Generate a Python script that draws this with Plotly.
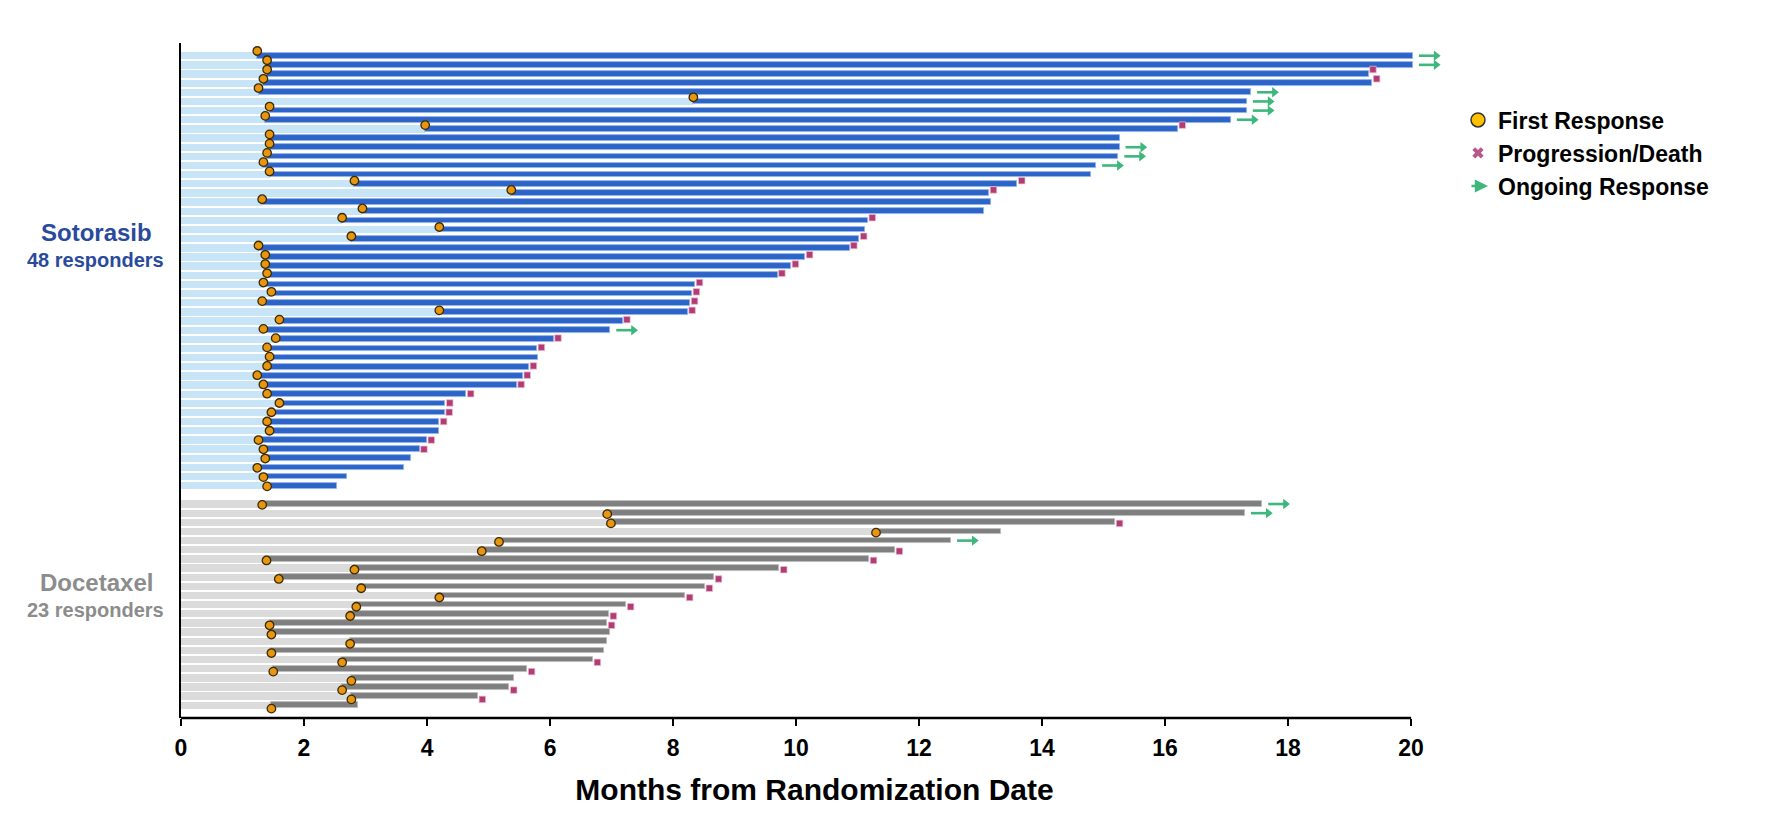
import plotly.graph_objects as go

# ---------------- data ----------------
soto_response = [1.24, 1.40, 1.40, 1.34, 1.26, 8.33, 1.44, 1.37, 3.97, 1.44,
                 1.44, 1.40, 1.34, 1.44, 2.82, 5.37, 1.32, 2.95, 2.62, 4.20,
                 2.77, 1.26, 1.37, 1.37, 1.40, 1.34, 1.47, 1.32, 4.20, 1.60,
                 1.34, 1.54, 1.40, 1.44, 1.40, 1.24, 1.34, 1.40, 1.60, 1.47,
                 1.40, 1.44, 1.26, 1.34, 1.37, 1.24, 1.34, 1.40]
soto_end = [20.03, 20.03, 19.31, 19.37, 17.40, 17.33, 17.33, 17.07, 16.21, 15.26,
            15.26, 15.24, 14.88, 14.80, 13.60, 13.14, 13.17, 13.06, 11.17, 11.12,
            11.03, 10.87, 10.15, 9.92, 9.70, 8.36, 8.31, 8.28, 8.24, 7.18,
            6.98, 6.06, 5.79, 5.81, 5.66, 5.56, 5.46, 4.64, 4.30, 4.29,
            4.20, 4.20, 4.00, 3.88, 3.74, 3.63, 2.70, 2.54]
# A = ongoing response, P = progression/death, N = none
soto_event = ["A", "A", "P", "P", "A", "A", "A", "A", "P", "N",
              "A", "A", "A", "N", "P", "P", "N", "N", "P", "N",
              "P", "P", "P", "P", "P", "P", "P", "P", "P", "P",
              "A", "P", "P", "N", "P", "P", "P", "P", "P", "P",
              "P", "N", "P", "P", "N", "N", "N", "N"]

doce_response = [1.32, 6.93, 6.99, 11.30, 5.17, 4.89, 1.39, 2.82, 1.59, 2.93,
                 4.20, 2.85, 2.75, 1.44, 1.47, 2.75, 1.47, 2.62, 1.50, 2.77,
                 2.62, 2.77, 1.47]
doce_end = [17.58, 17.30, 15.19, 13.34, 12.52, 11.61, 11.19, 9.73, 8.67, 8.52,
            8.20, 7.24, 6.96, 6.93, 6.98, 6.93, 6.87, 6.70, 5.63, 5.42,
            5.34, 4.83, 2.87]
doce_event = ["A", "A", "P", "N", "A", "P", "P", "P", "P", "P",
              "P", "P", "P", "P", "N", "N", "N", "P", "P", "N",
              "P", "P", "N"]

x_ticks = [0, 2, 4, 6, 8, 10, 12, 14, 16, 18, 20]
x_title = "Months from Randomization Date"
group_names = ["Sotorasib", "Docetaxel"]
group_counts = ["48 responders", "23 responders"]
legend_names = ["First Response", "Progression/Death", "Ongoing Response"]

# ---------------- layout constants ----------------
W, H = 1771, 822
X_MAX = 20.6                       # visible room for the arrows beyond 20
L, T, B = 181, 43, 104
R = W - L - round(61.5 * X_MAX)
PW, PH = W - L - R, H - T - B
FONT = "Liberation Sans, Arial, sans-serif"


def px(xp):
    return (xp - L) / PW


def py(yp):
    return 1 - (yp - T) / PH


soto_rows = list(range(len(soto_response)))
doce_rows = [len(soto_response) + 1 + i for i in range(len(doce_response))]

groups = [
    dict(resp=soto_response, end=soto_end, ev=soto_event, rows=soto_rows,
         light="#C7E5F7", dark="#2D64C7", edge="rgba(150,185,235,0.9)"),
    dict(resp=doce_response, end=doce_end, ev=doce_event, rows=doce_rows,
         light="#DBDBDB", dark="#7F7F7F", edge="rgba(190,190,190,0.9)"),
]

DOT_COLOR = "#E8950F"
PROG_COLOR = "#B23C74"
ARROW_COLOR = "#3DB77C"

fig = go.Figure()

for g in groups:
    fig.add_trace(go.Bar(
        orientation="h", y=g["rows"], x=g["resp"], base=0, width=0.80,
        marker=dict(color=g["light"], line=dict(width=0)),
        showlegend=False, hoverinfo="skip"))
    fig.add_trace(go.Bar(
        orientation="h", y=g["rows"],
        x=[e - r for r, e in zip(g["resp"], g["end"])], base=g["resp"], width=0.62,
        marker=dict(color=g["dark"], line=dict(width=0.8, color=g["edge"])),
        showlegend=False, hoverinfo="skip"))

for g in groups:
    # progression / death markers
    px_ = [e + 0.07 for e, ev in zip(g["end"], g["ev"]) if ev == "P"]
    py_ = [r for r, ev in zip(g["rows"], g["ev"]) if ev == "P"]
    fig.add_trace(go.Scatter(
        x=px_, y=py_, yaxis="y2", mode="markers", cliponaxis=False,
        marker=dict(symbol="square", size=6.5, color=PROG_COLOR,
                    line=dict(width=0.8, color="rgba(235,190,210,0.9)")),
        showlegend=False, hoverinfo="skip"))
    # ongoing response arrows (shaft + head)
    ax_ = [e for e, ev in zip(g["end"], g["ev"]) if ev == "A"]
    ay_ = [r for r, ev in zip(g["rows"], g["ev"]) if ev == "A"]
    fig.add_trace(go.Scatter(
        x=[e + 0.245 for e in ax_], y=ay_, mode="markers", cliponaxis=False,
        marker=dict(symbol="line-ew", size=13, line=dict(width=2.6, color=ARROW_COLOR)),
        showlegend=False, hoverinfo="skip"))
    fig.add_trace(go.Scatter(
        x=[e + 0.377 for e in ax_], y=ay_, mode="markers", cliponaxis=False,
        marker=dict(symbol="triangle-right", size=9, color=ARROW_COLOR, line=dict(width=0)),
        showlegend=False, hoverinfo="skip"))
    # first response dots
    fig.add_trace(go.Scatter(
        x=g["resp"], y=g["rows"], yaxis="y2", mode="markers", cliponaxis=False,
        marker=dict(symbol="circle", size=8.5, color=DOT_COLOR,
                    line=dict(width=1.3, color="#3A2A08")),
        showlegend=False, hoverinfo="skip"))

# legend-only entries
fig.add_trace(go.Scatter(
    x=[None], y=[None], mode="markers", name=legend_names[0],
    marker=dict(symbol="circle", size=14, color="#FFC000", line=dict(width=1.5, color="#333333"))))
fig.add_trace(go.Scatter(
    x=[None], y=[None], mode="markers", name=legend_names[1],
    marker=dict(symbol="x", size=10, color="#B5588C", line=dict(width=0))))
fig.add_trace(go.Scatter(
    x=[None], y=[None], mode="markers", name=legend_names[2],
    marker=dict(symbol="circle", size=1, color="rgba(0,0,0,0)", line=dict(width=0))))

LEG_TOP = 98.5
LEG_FS = 23
LEG_STEP = 33.0
annotations = [
    dict(text="<b>%s</b>" % group_names[0], x=px(96), y=py(232), font=dict(size=24, color="#2A4A9C")),
    dict(text="<b>%s</b>" % group_counts[0], x=px(95), y=py(260), font=dict(size=20, color="#2A4A9C")),
    dict(text="<b>%s</b>" % group_names[1], x=px(96), y=py(582), font=dict(size=24, color="#8C8C8C")),
    dict(text="<b>%s</b>" % group_counts[1], x=px(95), y=py(610), font=dict(size=20, color="#8C8C8C")),
]
for a in annotations:
    a.update(xref="paper", yref="paper", showarrow=False, xanchor="center", yanchor="middle")
    a["font"]["family"] = FONT
# arrow symbol for the legend entry
annotations.append(dict(
    xref="paper", yref="paper", x=px(1488), y=py(LEG_TOP + 21.5 + 2 * LEG_STEP), ax=-18, ay=0,
    text="", showarrow=True, arrowhead=2, arrowsize=1.1, arrowwidth=2.4,
    arrowcolor=ARROW_COLOR, standoff=0))

fig.update_layout(
    width=W, height=H,
    margin=dict(l=L, r=R, t=T, b=B, autoexpand=False),
    paper_bgcolor="white", plot_bgcolor="white",
    barmode="overlay", bargap=0,
    font=dict(family=FONT, color="black"),
    xaxis=dict(range=[0, X_MAX], tickvals=x_ticks, ticks="outside", ticklen=7, tickwidth=2,
               tickcolor="black", showline=False,
               showgrid=False, zeroline=False, ticklabelstandoff=2,
               tickfont=dict(family=FONT, size=23, color="black", weight="bold"),
               title=dict(text=x_title, standoff=19,
                          font=dict(family=FONT, size=30, color="black", weight="bold"))),
    yaxis=dict(range=[72.39, -1.389], showline=True, linewidth=2.4, linecolor="black",
               showticklabels=False, ticks="", showgrid=False, zeroline=False),
    yaxis2=dict(range=[72.01, -0.864], overlaying="y", anchor="x", visible=False),
    shapes=[dict(type="line", xref="x", yref="paper", x0=x_ticks[0], x1=x_ticks[-1],
                 y0=0, y1=0, line=dict(color="black", width=2.6))],
    legend=dict(x=px(1458), y=py(LEG_TOP), xanchor="left", yanchor="top",
                font=dict(family=FONT, size=LEG_FS, color="black", weight="bold"),
                bgcolor="rgba(0,0,0,0)", itemclick=False, itemdoubleclick=False),
    annotations=annotations,
    showlegend=True,
)

fig.write_html("out.html", config={"displayModeBar": False},
               post_script="document.body.style.margin='0';")
